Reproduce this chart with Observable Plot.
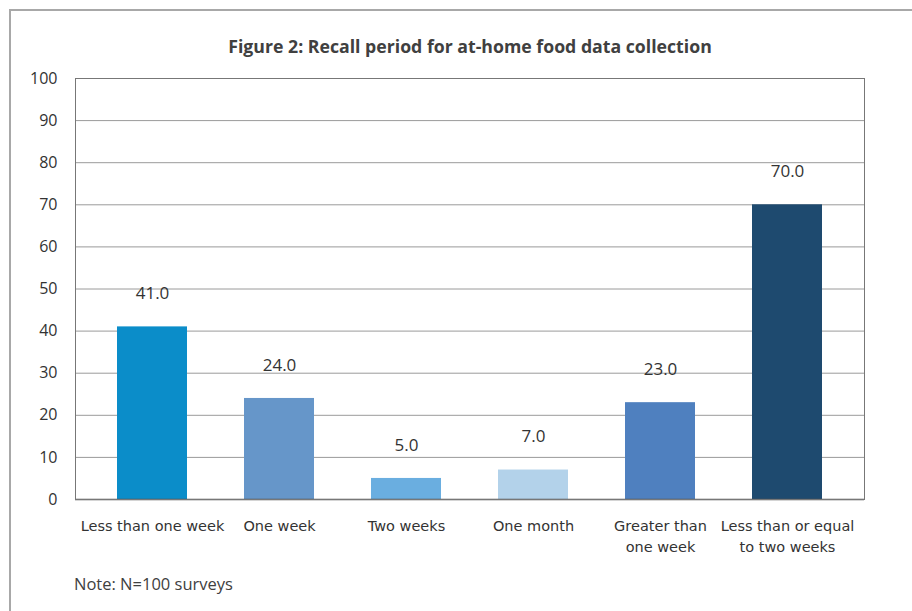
<!DOCTYPE html>
<html><head><meta charset="utf-8">
<script src="https://cdn.jsdelivr.net/npm/d3@7"></script>
<script src="https://cdn.jsdelivr.net/npm/@observablehq/plot@0.6"></script>
<style>
body{margin:0;background:#fff;width:912px;height:611px;overflow:hidden;position:relative;font-family:"Open Sans",sans-serif;color:#333;}
#box{position:absolute;left:9px;top:9px;width:1000px;height:700px;border:2px solid #a8a8a8;box-sizing:border-box;}
#title{position:absolute;left:0;width:940px;top:34px;line-height:24px;text-align:center;font-weight:700;font-size:17.7px;color:#404040;}
#note{position:absolute;left:74px;top:572px;line-height:24px;font-size:16.5px;color:#404040;}
#chart{position:absolute;left:0;top:0;}
</style></head>
<body>
<div id="box"></div>
<div id="title">Figure 2: Recall period for at-home food data collection</div>
<div id="chart"></div>
<div id="note">Note: N=100 surveys</div>
<script>
const categories = ["Less than one week","One week","Two weeks","One month","Greater than one week","Less than or equal to two weeks"];
const values = [41.0, 24.0, 5.0, 7.0, 23.0, 70.0];
const tickLabels = ["Less than one week","One week","Two weeks","One month","Greater than\none week","Less than or equal\nto two weeks"];
const barColors = ["#0b8dc9","#6696c9","#6aaee0","#b3d2ea","#4f80bf","#1e4a6f"];
const yTicks = [0,10,20,30,40,50,60,70,80,90,100];

const data = categories.map((c,i)=>({category:c, value:values[i], color:barColors[i], label:tickLabels[i]}));
const labelOf = new Map(data.map(d=>[d.category,d.label]));

const chart = Plot.plot({
  width: 912, height: 560,
  marginLeft: 75, marginRight: 48, marginTop: 78, marginBottom: 61,
  style: {fontFamily: "'Open Sans', sans-serif", color: "#333", background: "transparent"},
  x: {domain: categories, paddingInner: 0.45, paddingOuter: 0.32, axis: null},
  y: {domain: [0,100], axis: null},
  color: {type: "identity"},
  marks: [
    Plot.gridY(yTicks, {stroke: "#9a9a9a", strokeOpacity: 1}),
    Plot.barY(data, {x: "category", y: "value", fill: "color"}),
    Plot.ruleY([0], {stroke: "#555", strokeWidth: 1.5}),
    Plot.frame({stroke: "#777"}),
    Plot.text(data, {x: "category", y: "value", text: d => d.value.toFixed(1), dy: -33, fontSize: 17, fill: "#333"}),
    Plot.axisY({ticks: yTicks, label: null, tickSize: 0, tickPadding: 18, fontSize: 16, fill: "#333"}),
    Plot.axisX({label: null, tickSize: 0, tickPadding: 17, tickFormat: d => labelOf.get(d), fontSize: 14.5, lineHeight: 1.45, fill: "#333", fontFamily: "'DejaVu Sans', sans-serif"})
  ]
});
document.getElementById("chart").appendChild(chart);
</script>
</body></html>
